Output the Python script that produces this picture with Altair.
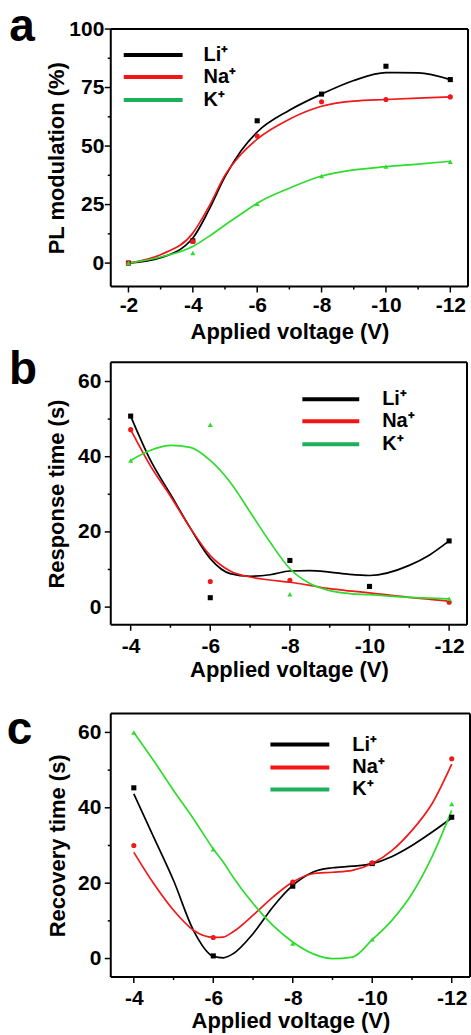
import altair as alt
import pandas as pd

SERIES = ["Li⁺", "Na⁺", "K⁺"]
COLORS = ["#000000", "#f01818", "#2edc2e"]
LEGEND_COLORS = ["#000000", "#f41414", "#1db05c"]
SHAPES = ["square", "circle", "triangle-up"]
AX = "#000000"
FONT = "Liberation Sans"

# ---------------- panel a : PL modulation (%) ----------------
a_x = [-2, -4, -6, -8, -10, -12]
a_li = [0, 9.5, 60.8, 72.2, 84.1, 78.4]
a_na = [0, 9.2, 54.3, 68.9, 69.9, 71.0]
a_k = [0, 4.3, 25.3, 37.2, 41.2, 43.3]
a_cx = [-2, -3, -4, -4.5, -5, -5.5, -6, -7, -8, -9, -10, -11, -12]
a_li_c = [0, 2.3, 10.7, 22.7, 36.9, 48.0, 56.0, 65.3, 72.2, 78.0, 81.4, 81.3, 78.4]
a_na_c = [0, 3.6, 12.8, 24.1, 37.6, 46.5, 53.0, 61.5, 67.0, 69.2, 69.9, 70.5, 71.0]
a_k_c = [0, 2.6, 7.1, 11.4, 16.3, 21.0, 25.6, 32.0, 37.2, 39.8, 41.2, 42.3, 43.5]
a_xmaj = [-2, -4, -6, -8, -10, -12]
a_xmin = [-3, -5, -7, -9, -11]
a_ymaj = [0, 25, 50, 75, 100]
a_ymin = [12.5, 37.5, 62.5, 87.5]

# ---------------- panel b : Response time (s) ----------------
b_li_x = [-4, -6, -8, -10, -12]
b_li = [50.8, 2.5, 12.4, 5.5, 17.6]
b_na_x = [-4, -6, -8, -12]
b_na = [47.2, 6.8, 7.1, 1.3]
b_k_x = [-4, -6, -8, -12]
b_k = [39.0, 48.5, 3.4, 2.2]
b_cx = [-4, -4.5, -5, -5.5, -6, -6.5, -7, -7.5, -8, -8.5, -9, -9.5, -10, -11, -11.5, -12]
b_li_c = [50.8, 39.0, 30.0, 21.0, 12.9, 8.9, 8.2, 8.6, 9.6, 9.7, 9.3, 8.7, 8.4, 11.1, 13.8, 17.6]
b_na_c = [47.2, 37.5, 29.5, 21.0, 13.7, 9.6, 8.0, 7.2, 6.6, 5.8, 4.9, 4.3, 3.8, 2.6, 2.1, 1.6]
b_k_c = [39.0, 41.7, 43.0, 42.5, 39.0, 33.2, 25.3, 17.3, 10.2, 6.3, 4.4, 3.6, 3.3, 2.6, 2.4, 2.2]

# ---------------- panel c : Recovery time (s) ----------------
c_x = [-4, -6, -8, -10, -12]
c_li = [45.3, 0.7, 19.2, 25.2, 37.5]
c_na = [30.0, 5.6, 20.3, 25.4, 53.0]
c_k = [60.0, 29.0, 4.0, 5.1, 41.0]
c_cx = [-4, -4.5, -5, -5.5, -6, -6.25, -6.5, -7, -7.5, -8, -8.5, -9, -9.5, -10, -10.5, -11, -11.5, -12]
c_li_c = [43.7, 32.2, 20.7, 7.5, 0.6, 0.2, 1.3, 6.6, 13.7, 19.4, 22.9, 24.1, 24.5, 25.2, 27.1, 30.0, 33.5, 37.3]
c_na_c = [28.2, 19.9, 12.8, 7.5, 5.6, 5.7, 7.1, 11.5, 16.3, 20.3, 22.5, 22.9, 23.4, 25.2, 28.7, 34.0, 41.0, 51.6]
c_k_c = [60.0, 52.5, 44.6, 37.1, 29.1, 25.6, 21.6, 14.6, 8.8, 4.4, 1.3, 0.0, 0.4, 5.0, 10.2, 17.2, 26.9, 39.3]

bc_xmaj = [-4, -6, -8, -10, -12]
bc_xmin = [-5, -7, -9, -11]
bc_ymaj = [0, 20, 40, 60]
bc_ymin = [10, 30, 50]


def long_df(xs_list, ys_list):
    rows = []
    for name, xs, ys in zip(SERIES, xs_list, ys_list):
        for xv, yv in zip(xs, ys):
            rows.append({"x": xv, "y": yv, "s": name})
    return pd.DataFrame(rows)


def panel(points, curves, xdom, ydom, ticks, ytitle,
          ylab_pad, ytitle_pad, xlab_pad, xtitle_pad,
          w, h, letter, letter_xy, leg, spacer_y=None):
    xmaj, xmin, ymaj, ymin = ticks
    color = alt.Color("s:N", scale=alt.Scale(domain=SERIES, range=COLORS), legend=None)
    shape = alt.Shape("s:N", scale=alt.Scale(domain=SERIES, range=SHAPES), legend=None)
    common = dict(
        domain=False, ticks=False, grid=False, labelOverlap=False,
        labelFont=FONT, labelFontWeight="bold", labelFontSize=21, labelColor="#000000",
        titleFont=FONT, titleFontWeight="bold", titleFontSize=22, titleColor="#000000",
    )
    xaxis = alt.Axis(values=xmaj, title="Applied voltage (V)",
                     labelExpr="toString(datum.value)",
                     labelPadding=xlab_pad + 6, titlePadding=xtitle_pad, **common)
    yaxis = alt.Axis(values=ymaj, title=ytitle,
                     labelExpr="toString(datum.value)",
                     labelPadding=ylab_pad + 6, titlePadding=ytitle_pad, **common)
    xs = alt.Scale(domain=xdom, nice=False, zero=False)
    ys = alt.Scale(domain=ydom, nice=False, zero=False)
    lines = alt.Chart(curves).mark_line(interpolate="monotone", strokeWidth=1.7).encode(
        x=alt.X("x:Q", scale=xs, axis=xaxis), y=alt.Y("y:Q", scale=ys, axis=yaxis),
        color=color, detail="s:N")
    pts = alt.Chart(points).mark_point(filled=True, size=26, opacity=1).encode(
        x=alt.X("x:Q", scale=xs, axis=xaxis), y=alt.Y("y:Q", scale=ys, axis=yaxis),
        color=color, shape=shape)
    layers = [lines, pts]
    lx0, lx1, ltx, lys = leg
    for name, col, yy in zip(SERIES, LEGEND_COLORS, lys):
        d = pd.DataFrame({"s": [name]})
        layers.append(alt.Chart(d).mark_rule(color=col, strokeWidth=4).encode(
            x=alt.value(lx0), x2=alt.value(lx1), y=alt.value(yy)))
        layers.append(alt.Chart(d).mark_text(
            align="left", baseline="middle", font=FONT, fontSize=20,
            fontWeight="bold", color="black").encode(
            x=alt.value(ltx), y=alt.value(yy), text="s:N"))
    ld = pd.DataFrame({"t": [letter]})
    layers.append(alt.Chart(ld).mark_text(
        align="center", baseline="alphabetic", font=FONT, fontSize=46,
        fontWeight="bold", color="black").encode(
        x=alt.value(letter_xy[0]), y=alt.value(letter_xy[1]), text="t:N"))
    if spacer_y is not None:
        layers.append(alt.Chart(ld).mark_text(
            align="center", baseline="alphabetic", font=FONT, fontSize=46,
            fontWeight="bold", opacity=0).encode(
            x=alt.value(letter_xy[0]), y=alt.value(spacer_y), text="t:N"))
    # major / minor ticks drawn as rules through the panel's own scales
    for vals, ln in ((xmaj, 6), (xmin, 3)):
        layers.append(alt.Chart(pd.DataFrame({"x": vals})).mark_rule(
            color=AX, strokeWidth=1.5).encode(
            x=alt.X("x:Q", scale=xs, axis=xaxis), y=alt.value(h), y2=alt.value(h + ln)))
    for vals, ln in ((ymaj, 6), (ymin, 3)):
        layers.append(alt.Chart(pd.DataFrame({"y": vals})).mark_rule(
            color=AX, strokeWidth=1.5).encode(
            y=alt.Y("y:Q", scale=ys, axis=yaxis), x=alt.value(0), x2=alt.value(-ln)))
    # frame drawn as four rules
    fd = pd.DataFrame({"f": [letter]})
    for yy in (0, h):
        layers.append(alt.Chart(fd).mark_rule(color=AX, strokeWidth=2).encode(
            x=alt.value(0), x2=alt.value(w), y=alt.value(yy)))
    for xx in (0, w):
        layers.append(alt.Chart(fd).mark_rule(color=AX, strokeWidth=2).encode(
            x=alt.value(xx), y=alt.value(0), y2=alt.value(h)))
    return alt.layer(*layers).properties(width=w, height=h)


pa = panel(
    long_df([a_x, a_x, a_x], [a_li, a_na, a_k]),
    long_df([a_cx, a_cx, a_cx], [a_li_c, a_na_c, a_k_c]),
    [-1.45, -12.55], [-10, 100], (a_xmaj, a_xmin, a_ymaj, a_ymin),
    "PL modulation (%)", 1, 0, 2, 6,
    358, 258, "a", (-89, 12),
    (13, 72, 93, [26, 48, 71]),
)
pb = panel(
    long_df([b_li_x, b_na_x, b_k_x], [b_li, b_na, b_k]),
    long_df([b_cx, b_cx, b_cx], [b_li_c, b_na_c, b_k_c]),
    [-3.5, -12.45], [-4.7, 65.1], (bc_xmaj, bc_xmin, bc_ymaj, bc_ymin),
    "Response time (s)", 4, 9, 5, 3,
    357, 263, "b", (-88, 22),
    (192, 249, 272, [37, 59, 82]),
)
pc = panel(
    long_df([c_x, c_x, c_x], [c_li, c_na, c_k]),
    long_df([c_cx, c_cx, c_cx], [c_li_c, c_na_c, c_k_c]),
    [-3.42, -12.46], [-4.9, 65.0], (bc_xmaj, bc_xmin, bc_ymaj, bc_ymin),
    "Recovery time (s)", 4, 8, 5, 2,
    360, 264, "c", (-91.5, 30),
    (160, 219, 242, [31, 54, 76]),
    spacer_y=9,
)

chart = alt.concat(pa, pb, pc, columns=1, spacing=5).properties(
    padding={"left": 6, "top": 3, "right": 0, "bottom": 0},
).configure_view(
    strokeWidth=0,
)

chart.save("out.html", embed_options={"renderer": "svg", "actions": False})
